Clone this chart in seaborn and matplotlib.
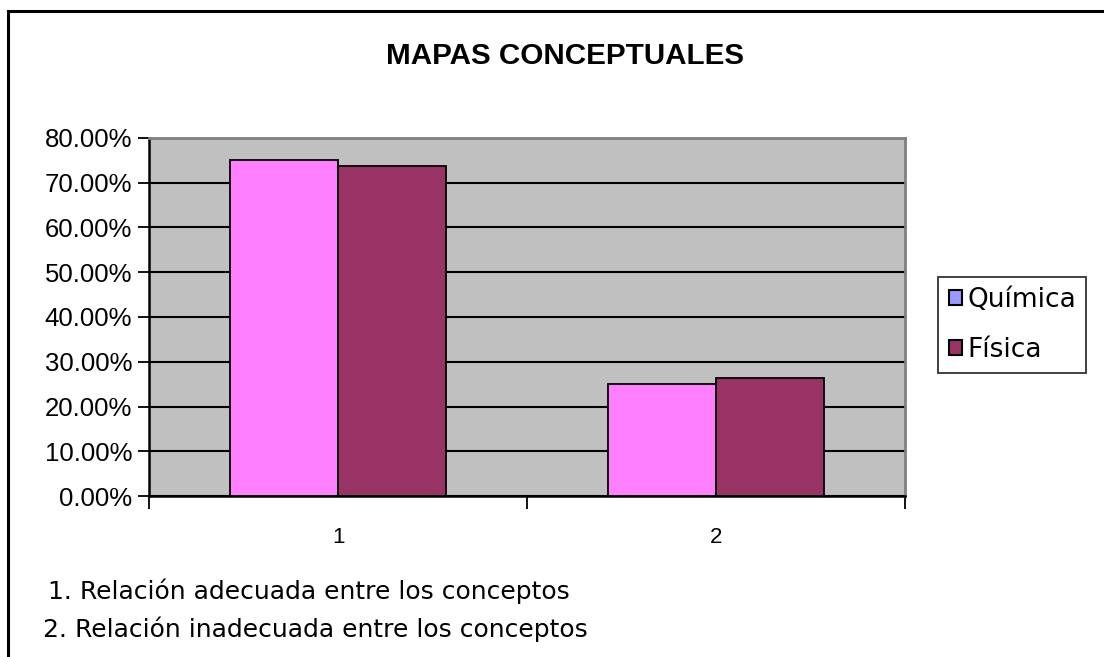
import seaborn as sns
import pandas as pd
import numpy as np
import matplotlib.pyplot as plt
from matplotlib.patches import Patch, Rectangle
from matplotlib.ticker import FixedLocator, FuncFormatter

categorias = ['1', '2']
quimica = [75.0, 25.0]
fisica = [73.7, 26.3]
series = ['Química', 'Física']
notas = ['1. Relación adecuada entre los conceptos',
         '2. Relación inadecuada entre los conceptos']

data = pd.DataFrame({
    'Categoria': categorias * 2,
    'Valor': quimica + fisica,
    'Serie': [series[0]] * len(categorias) + [series[1]] * len(categorias),
})

sns.set_style('white')
plt.rcParams['font.family'] = 'sans-serif'
plt.rcParams['font.sans-serif'] = ['Liberation Sans', 'DejaVu Sans']
plt.rcParams['text.color'] = 'black'
plt.rcParams['xtick.color'] = 'black'
plt.rcParams['ytick.color'] = 'black'

fig = plt.figure(figsize=(11.04, 6.57), dpi=100)
ax = fig.add_axes([149 / 1104, 1 - 496 / 657, (905 - 149) / 1104, (496 - 138) / 657])
ax.set_facecolor('#C0C0C0')

sns.barplot(x='Categoria', y='Valor', hue='Serie', data=data, ax=ax,
            palette=['#FF80FF', '#993366'], width=0.57, dodge=True,
            edgecolor='black', linewidth=1.3, saturation=1, legend=False, zorder=3)

ax.set_xlim(-0.5, 1.5)
ax.set_ylim(0, 80)
ax.set_yticks(np.arange(0, 81, 10))
ax.yaxis.set_major_formatter(FuncFormatter(lambda v, p: f'{v:.2f}%'))
ax.grid(axis='y', color='black', linewidth=1.5, zorder=1)
ax.set_axisbelow(True)
ax.set_xlabel('')
ax.set_ylabel('')

# ticks between categories, labels centred without marks
ax.xaxis.set_minor_locator(FixedLocator([-0.5, 0.5, 1.5]))
ax.tick_params(axis='x', which='major', length=0, labelsize=16, pad=22, labelcolor='black')
ax.tick_params(axis='x', which='minor', length=9, width=1.3, color='black', direction='out', bottom=True)
ax.tick_params(axis='y', length=8, width=1.3, color='black', direction='out', left=True,
               labelsize=18.5, pad=4, labelcolor='black')
for lbl in ax.get_xticklabels() + ax.get_yticklabels():
    lbl.set_fontfamily('Liberation Sans')

for s in ['left', 'bottom']:
    ax.spines[s].set_color('black')
    ax.spines[s].set_linewidth(1.8)
for s in ['top', 'right']:
    ax.spines[s].set_color('#808080')
    ax.spines[s].set_linewidth(2)
ax.spines['bottom'].set_zorder(5)

fig.text(565 / 1104, 1 - 56 / 657, 'MAPAS CONCEPTUALES', ha='center', va='center',
         fontsize=21.3, fontweight='bold', family='Liberation Sans', color='black')

handles = [Patch(facecolor='#9999FF', edgecolor='black', linewidth=1.5, label=series[0]),
           Patch(facecolor='#993366', edgecolor='black', linewidth=1.5, label=series[1])]
leg = fig.legend(handles=handles, loc='center left', bbox_to_anchor=(938 / 1104, 1 - 325 / 657),
                 frameon=True, fancybox=False, edgecolor='black',
                 prop={'family': 'DejaVu Sans', 'size': 19}, handlelength=0.5, handleheight=0.5,
                 handletextpad=0.2, labelspacing=0.9, borderpad=0.4, borderaxespad=0)
leg.get_frame().set_linewidth(1.3)
for t in leg.get_texts():
    t.set_color('black')

fig.text(48 / 1104, 1 - 591 / 657, notas[0], ha='left', va='center', fontsize=18,
         family='DejaVu Sans', color='black')
fig.text(43 / 1104, 1 - 629 / 657, notas[1], ha='left', va='center', fontsize=18,
         family='DejaVu Sans', color='black')

fig.add_artist(Rectangle((8 / 1104, -0.1), 1.2, 1 - 11 / 657 + 0.1, transform=fig.transFigure,
                         fill=False, edgecolor='black', linewidth=2.2))

fig.savefig('out.png', dpi=100)
